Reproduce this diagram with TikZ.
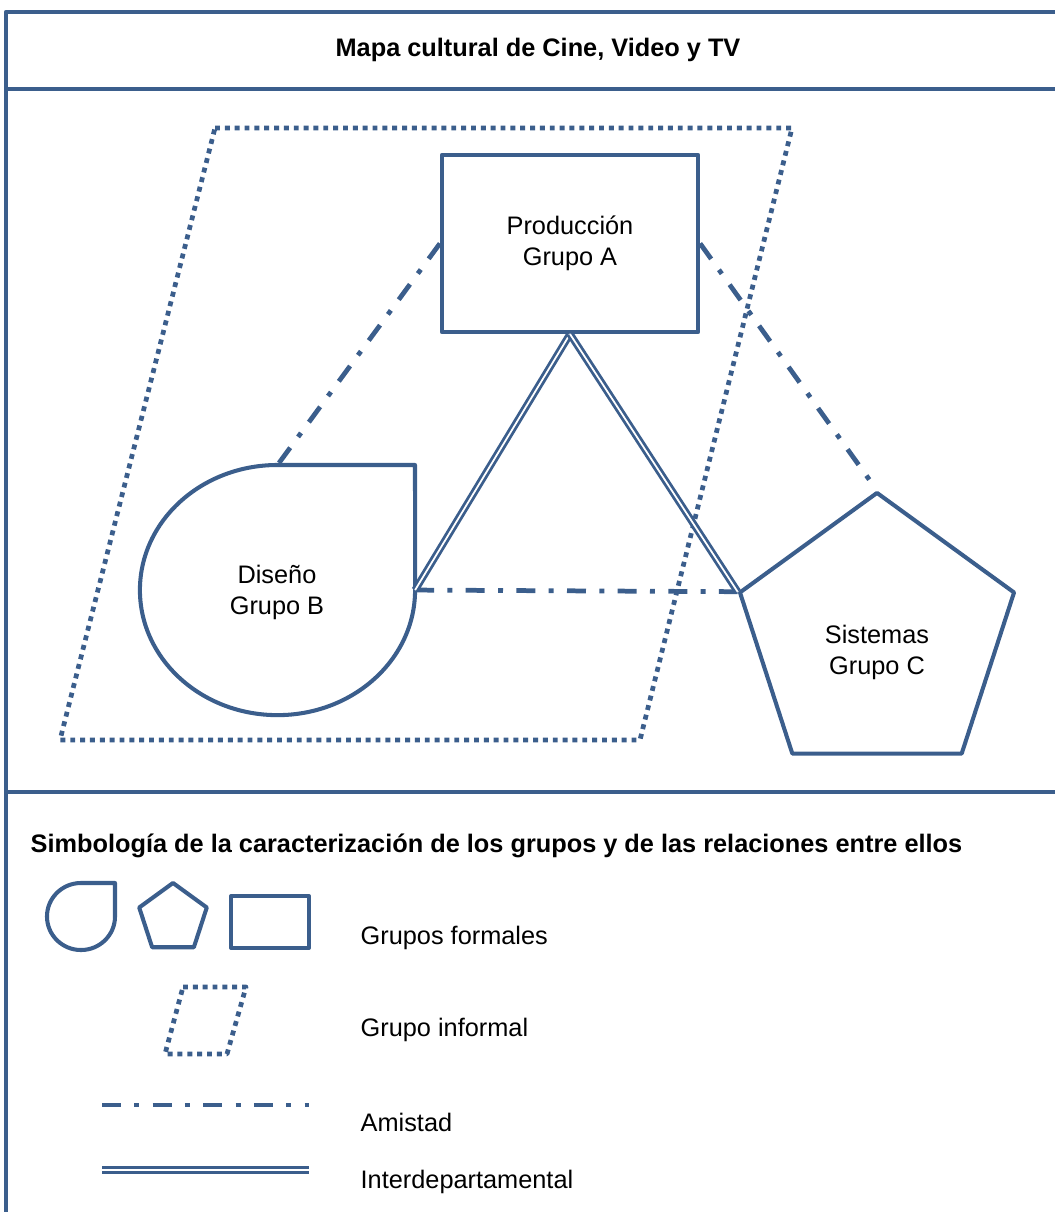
\documentclass[tikz,border=0pt]{standalone}
\usepackage{fontspec}
\setmainfont{Liberation Sans}
\usetikzlibrary{shapes.geometric}
\definecolor{grpblue}{RGB}{59,94,140}

\begin{document}
\begin{tikzpicture}[x=0.01cm,y=0.01cm,line join=round,
		frame/.style={grpblue,line width=1.2pt},
		formal/.style={draw=grpblue,line width=1.15pt},
		informal/.style={grpblue,line width=1.35pt,dash pattern=on 1.4pt off 1.4pt},
		amistad/.style={grpblue,line width=1.35pt,dash pattern=on 5.4pt off 3.8pt on 1.4pt off 3.8pt},
		interdep/.style={grpblue,double=white,double distance=0.5pt,line width=0.8pt},
		txt/.style={font=\fontsize{7.2}{8.8}\selectfont,align=center},
		bold/.style={font=\fontsize{7.2}{8.8}\selectfont\bfseries},
		legtxt/.style={txt,anchor=west,inner sep=0pt}]

		\useasboundingbox (0,0) rectangle (1055,1212);

		% draw the frame and the title
		\draw[frame] (6,0) -- (6,1200) -- (1055,1200);
		\draw[frame] (6,1123) -- (1055,1123);
		\draw[frame] (6,420) -- (1055,420);
		\node[bold] (title) at (538,1162) {Mapa cultural de Cine, Video y TV};

		% draw the informal group
		\draw[informal] (215,1084) -- (792,1084) -- (640,472) -- (60,472) -- cycle;

		% draw the formal groups
		\node[formal,txt,minimum width=2.56cm,minimum height=1.77cm] (prodA) at (570,968.5) {Producción\\Grupo A};

		\draw[formal] (277.5,747) coordinate (disBtop)
			arc[start angle=90,end angle=360,x radius=1.375cm,y radius=1.25cm] coordinate (disBright)
			-- (415,747) -- cycle;
		\node[txt] (disB) at (277,620) {Diseño\\Grupo B};

		\node[formal,regular polygon,regular polygon sides=5,minimum size=2.88cm,inner sep=0pt] (sisC) at (877,575) {};
		\node[txt] (sisCtext) at (877,560) {Sistemas\\Grupo C};

		% friendship between the groups
		\draw[amistad] (prodA.west) -- (disBtop);
		\draw[amistad] (prodA.east) -- (sisC.corner 1);
		\draw[amistad] (disBright) -- (sisC.corner 2);

		% interdepartmental relations
		\draw[interdep] (prodA.south) -- (disBright);
		\draw[interdep] (prodA.south) -- (sisC.corner 2);

		% draw the legend
		\node[bold,anchor=west,inner sep=0pt] (legend) at (30,366) {Simbología de la caracterización de los grupos y de las relaciones entre ellos};

		\draw[formal] (81,329) arc[start angle=90,end angle=360,x radius=0.34cm,y radius=0.335cm] -- (115,329) -- cycle;
		\node[formal,regular polygon,regular polygon sides=5,minimum size=0.71cm,inner sep=0pt] (penta) at (173,293.5) {};
		\node[formal,minimum width=0.78cm,minimum height=0.52cm,inner sep=0pt] (rect) at (270,290) {};
		\node[legtxt] (formales) at (360,274) {Grupos formales};

		\draw[informal] (183,225) -- (246,225) -- (227,158) -- (165,158) -- cycle;
		\node[legtxt] (informal) at (360,182) {Grupo informal};

		\coordinate (amiL) at (102,107);
		\coordinate (amiR) at (309,107);
		\draw[amistad] (amiL) -- (amiR);
		\node[legtxt] (amistad) at (360,90) {Amistad};

		\coordinate (intL) at (102,42);
		\coordinate (intR) at (309,42);
		\draw[interdep] (intL) -- (intR);
		\node[legtxt] (interdep) at (360,30) {Interdepartamental};
	\end{tikzpicture}
\end{document}
